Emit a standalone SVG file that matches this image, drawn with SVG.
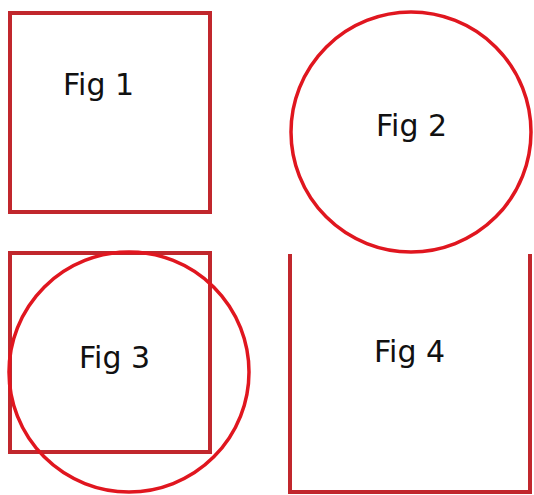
<svg xmlns="http://www.w3.org/2000/svg" width="534" height="495" viewBox="0 0 534 495">
<style>
.box{fill:none;stroke:#c1272d;stroke-width:4}
.ring{fill:none;stroke:#e0161f;stroke-width:3.5}
.lbl{font-family:"DejaVu Sans","Verdana",sans-serif;font-size:30px;fill:#111}
</style>
<rect width="534" height="495" fill="#fff"/>
<g id="fig1">
<rect class="box" x="10" y="13" width="200" height="199"/>
<text class="lbl" x="63" y="95">Fig 1</text>
</g>
<g id="fig2">
<circle class="ring" cx="411" cy="132" r="120"/>
<text class="lbl" x="376" y="136">Fig 2</text>
</g>
<g id="fig3">
<rect class="box" x="10" y="253" width="200" height="199"/>
<circle class="ring" cx="129" cy="372" r="120"/>
<text class="lbl" x="79" y="368">Fig 3</text>
</g>
<g id="fig4">
<path class="box" d="M290,254 V492 H530 V254"/>
<text class="lbl" x="374" y="362">Fig 4</text>
</g>
<g id="connectors"/>
</svg>
